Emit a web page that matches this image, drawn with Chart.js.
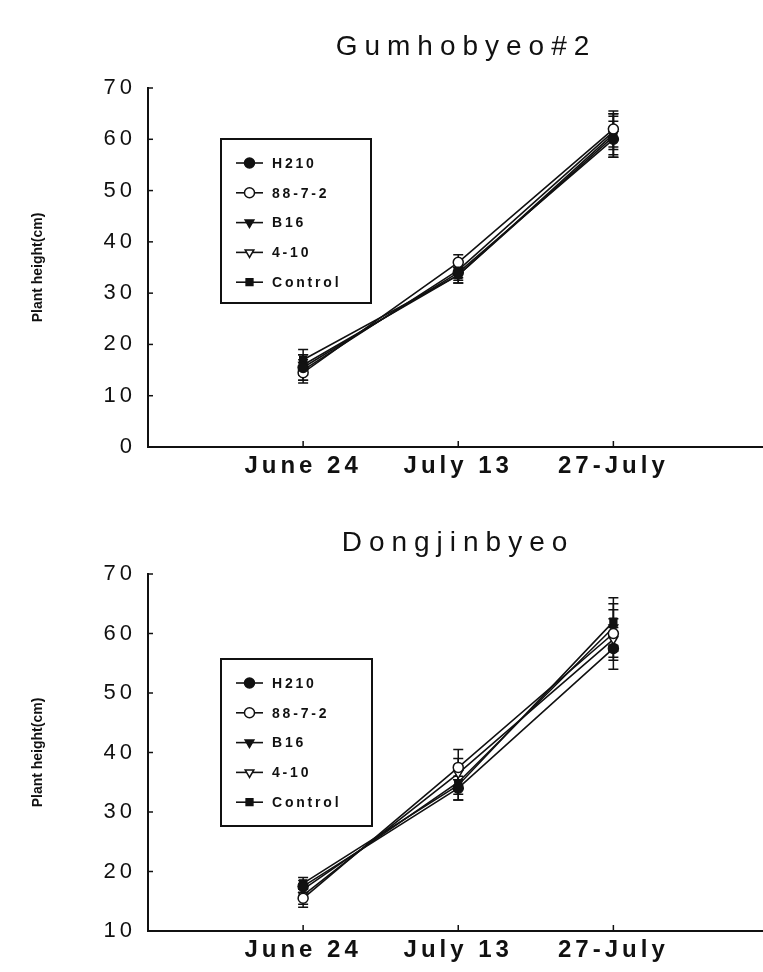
<!DOCTYPE html>
<html>
<head>
<meta charset="utf-8">
<script src="https://cdn.jsdelivr.net/npm/chart.js@4.4.1/dist/chart.umd.min.js"></script>
<style>
  html, body { margin: 0; padding: 0; background: #fff; }
  #wrap { position: relative; width: 763px; height: 972px; overflow: hidden; background: #fff; }
  .panel { position: absolute; left: 0; width: 775px; }
  #p1 { top: 0; height: 500px; }
  #p2 { top: 500px; height: 472px; }
  canvas { display: block; }
</style>
</head>
<body>
<div id="wrap">
  <div class="panel" id="p1"><canvas id="c1" width="775" height="500"></canvas></div>
  <div class="panel" id="p2"><canvas id="c2" width="775" height="472"></canvas></div>
</div>
<script>
// Sampling dates (x axis) and line names
const dates = ['June 24', 'July 13', '27-July'];
const lineNames = ['H210', '88-7-2', 'B16', '4-10', 'Control'];

// Y axis ticks
const gumTicks = [0, 10, 20, 30, 40, 50, 60, 70];
const dongTicks = [10, 20, 30, 40, 50, 60, 70];

// Gumhobyeo#2 plant height (cm) and error
const gumH210 = [15.5, 34.0, 60.0];
const gum8872 = [14.5, 36.0, 62.0];
const gumB16 = [16.0, 33.5, 61.0];
const gum410 = [15.0, 34.5, 61.5];
const gumControl = [17.0, 33.5, 60.5];
const gumH210Err = [2.5, 1.5, 3.5];
const gum8872Err = [2.0, 1.5, 3.5];
const gumB16Err = [2.0, 1.5, 4.0];
const gum410Err = [2.0, 1.5, 3.5];
const gumControlErr = [2.0, 1.5, 4.0];

// Dongjinbyeo plant height (cm) and error
const dongH210 = [17.5, 34.0, 57.5];
const dong8872 = [15.5, 37.5, 60.0];
const dongB16 = [17.0, 35.0, 61.0];
const dong410 = [16.0, 36.5, 59.0];
const dongControl = [18.0, 34.5, 62.0];
const dongH210Err = [1.0, 2.0, 3.5];
const dong8872Err = [1.5, 3.0, 4.0];
const dongB16Err = [1.0, 2.0, 4.0];
const dong410Err = [1.5, 2.5, 3.5];
const dongControlErr = [1.0, 2.5, 4.0];

const INK = '#111';
const FONT = "'Liberation Sans', Arial, Helvetica, sans-serif";

// Marker look for each line, in lineNames order
const markerStyles = [
  { pointStyle: 'circle', fill: INK, rotation: 0 },
  { pointStyle: 'circle', fill: '#fff', rotation: 0 },
  { pointStyle: 'triangle', fill: INK, rotation: 180 },
  { pointStyle: 'triangle', fill: '#fff', rotation: 180 },
  { pointStyle: 'rect', fill: INK, rotation: 0 }
];

function makeDatasets(values, errors) {
  return values.map((vals, k) => ({
    label: lineNames[k],
    data: vals.map((v, i) => ({ x: i + 1, y: v })),
    errors: errors[k],
    borderColor: INK,
    borderWidth: 1.6,
    backgroundColor: markerStyles[k].fill,
    pointBackgroundColor: markerStyles[k].fill,
    pointBorderColor: INK,
    pointBorderWidth: 1.5,
    pointStyle: markerStyles[k].pointStyle,
    pointRotation: markerStyles[k].rotation,
    pointRadius: markerStyles[k].pointStyle === 'rect' ? 4.8 : 5,
    tension: 0
  }));
}

// Vertical error bars with caps, drawn under the markers
const errorBars = {
  id: 'errorBars',
  beforeDatasetsDraw(chart) {
    const { ctx, scales: { x, y } } = chart;
    ctx.save();
    ctx.strokeStyle = INK;
    ctx.lineWidth = 1.5;
    chart.data.datasets.forEach(ds => {
      ds.data.forEach((p, i) => {
        const e = ds.errors[i];
        const px = x.getPixelForValue(p.x);
        const top = y.getPixelForValue(p.y + e);
        const bot = y.getPixelForValue(p.y - e);
        ctx.beginPath();
        ctx.moveTo(px, top); ctx.lineTo(px, bot);
        ctx.moveTo(px - 5, top); ctx.lineTo(px + 5, top);
        ctx.moveTo(px - 5, bot); ctx.lineTo(px + 5, bot);
        ctx.stroke();
      });
    });
    ctx.restore();
  }
};

// Small tick marks pointing into the plot
const inwardTicks = {
  id: 'inwardTicks',
  afterDraw(chart) {
    const { ctx, scales: { x, y }, chartArea: a } = chart;
    ctx.save();
    ctx.strokeStyle = INK;
    ctx.lineWidth = 1.5;
    y.ticks.forEach(t => {
      const py = y.getPixelForValue(t.value);
      ctx.beginPath(); ctx.moveTo(a.left, py); ctx.lineTo(a.left + 5, py); ctx.stroke();
    });
    x.ticks.forEach(t => {
      if (!dates[t.value - 1]) return;
      const px = x.getPixelForValue(t.value);
      ctx.beginPath(); ctx.moveTo(px, a.bottom); ctx.lineTo(px, a.bottom - 6); ctx.stroke();
    });
    ctx.restore();
  }
};

// Spaced-out tick lettering
const tickSpacing = {
  id: 'tickSpacing',
  beforeDraw(chart) { chart.ctx.letterSpacing = '4px'; }
};

// Panel heading and the rotated y-axis caption
const panelText = {
  id: 'panelText',
  afterDraw(chart, args, o) {
    const { ctx, chartArea: a } = chart;
    ctx.save();
    ctx.fillStyle = INK;
    ctx.letterSpacing = '7px';
    ctx.font = `28px ${FONT}`;
    ctx.textAlign = 'center';
    ctx.textBaseline = 'alphabetic';
    ctx.fillText(o.title, o.titleX, o.titleY);
    ctx.letterSpacing = '0px';
    ctx.font = `bold 14px ${FONT}`;
    ctx.translate(o.captionX, (a.top + a.bottom) / 2);
    ctx.rotate(-Math.PI / 2);
    ctx.textBaseline = 'middle';
    ctx.fillText(o.caption, 0, 0);
    ctx.restore();
  }
};

// Boxed key drawn inside the plot
const boxKey = {
  id: 'boxKey',
  afterDraw(chart, args, o) {
    const { ctx } = chart;
    ctx.save();
    ctx.strokeStyle = INK;
    ctx.lineWidth = 2;
    ctx.strokeRect(o.left, o.top, o.width, o.height);
    ctx.font = `bold 14px ${FONT}`;
    ctx.letterSpacing = '2.8px';
    ctx.textBaseline = 'middle';
    ctx.textAlign = 'left';
    chart.data.datasets.forEach((ds, k) => {
      const yy = o.top + o.firstRow + k * o.rowGap;
      const x0 = o.left + 15;
      ctx.strokeStyle = INK;
      ctx.lineWidth = 1.6;
      ctx.beginPath(); ctx.moveTo(x0, yy); ctx.lineTo(x0 + 27, yy); ctx.stroke();
      ctx.fillStyle = ds.pointBackgroundColor;
      ctx.lineWidth = 1.5;
      Chart.helpers.drawPoint(ctx, {
        pointStyle: ds.pointStyle,
        rotation: ds.pointRotation,
        radius: ds.pointRadius,
        borderWidth: 1.5
      }, x0 + 13.5, yy);
      ctx.fillStyle = INK;
      ctx.fillText(ds.label, x0 + 36, yy + 1);
    });
    ctx.restore();
  }
};

function buildChart(canvasId, values, errors, yTicks, cfg) {
  return new Chart(document.getElementById(canvasId), {
    type: 'line',
    data: { datasets: makeDatasets(values, errors) },
    plugins: [tickSpacing, errorBars, inwardTicks, panelText, boxKey],
    options: {
      responsive: false,
      animation: false,
      layout: { padding: { top: cfg.padTop, left: 0, right: 0, bottom: 0 } },
      plugins: {
        legend: { display: false },
        tooltip: { enabled: false },
        panelText: cfg.text,
        boxKey: cfg.key
      },
      scales: {
        x: {
          type: 'linear',
          min: 0,
          max: dates.length + 1,
          afterBuildTicks(s) { s.ticks = [0, 1, 2, 3, 4].map(v => ({ value: v })); },
          ticks: {
            autoSkip: false,
            maxRotation: 0,
            padding: 5,
            color: INK,
            font: { family: FONT, size: 24, weight: 'bold' },
            callback: v => dates[v - 1] || ''
          },
          grid: { display: false, drawTicks: false },
          border: { display: true, color: INK, width: 2 },
          afterFit(s) { s.height = cfg.xHeight; }
        },
        y: {
          min: yTicks[0],
          max: yTicks[yTicks.length - 1],
          afterBuildTicks(s) { s.ticks = yTicks.map(v => ({ value: v })); },
          ticks: {
            padding: 12,
            color: INK,
            font: { family: FONT, size: 22 }
          },
          grid: { display: false, drawTicks: false },
          border: { display: true, color: INK, width: 2 },
          afterFit(s) { s.width = 148; }
        }
      }
    }
  });
}

buildChart('c1',
  [gumH210, gum8872, gumB16, gum410, gumControl],
  [gumH210Err, gum8872Err, gumB16Err, gum410Err, gumControlErr],
  gumTicks,
  {
    padTop: 88, xHeight: 53,
    text: { title: 'Gumhobyeo#2', titleX: 466, titleY: 55, caption: 'Plant height(cm)', captionX: 38 },
    key: { left: 221, top: 139, width: 150, height: 164, firstRow: 24, rowGap: 29.8 }
  });

buildChart('c2',
  [dongH210, dong8872, dongB16, dong410, dongControl],
  [dongH210Err, dong8872Err, dongB16Err, dong410Err, dongControlErr],
  dongTicks,
  {
    padTop: 74, xHeight: 41,
    text: { title: 'Dongjinbyeo', titleX: 458, titleY: 51, caption: 'Plant height(cm)', captionX: 38 },
    key: { left: 221, top: 159, width: 151, height: 167, firstRow: 24, rowGap: 29.8 }
  });
</script>
</body>
</html>
